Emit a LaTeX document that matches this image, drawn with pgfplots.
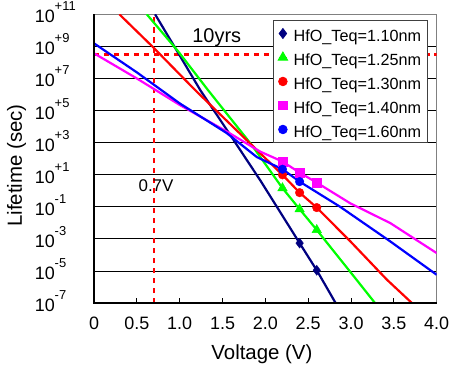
\documentclass[border=0pt]{standalone}
\usepackage{pgfplots}
\pgfplotsset{compat=1.18}
\usepackage{fontspec}
\setmainfont{Liberation Sans}
\definecolor{navyc}{RGB}{0,0,128}
\definecolor{greenc}{RGB}{0,255,0}
\definecolor{redc}{RGB}{255,0,0}
\definecolor{magc}{RGB}{255,0,255}
\definecolor{bluec}{RGB}{0,0,255}
\newcommand{\ep}[1]{10\raisebox{12bp}{\fontsize{13}{13}\selectfont #1}}
\pgfplotsset{mk/.style={only marks, legend image code/.code={\path (0bp,0bp) -- (8bp,0bp); \draw[##1] plot coordinates {(4bp,0bp)};}}}
\begin{document}
\begin{tikzpicture}
\begin{axis}[
  scale only axis, width=342.7bp, height=288.7bp,
  xmin=0, xmax=4, ymin=1e-7, ymax=1e11, ymode=log,
  xtick={0,0.5,1,1.5,2,2.5,3,3.5,4},
  xticklabels={0,0.5,1.0,1.5,2.0,2.5,3.0,3.5,4.0},
  ytick={1e-7,1e-5,1e-3,1e-1,1e1,1e3,1e5,1e7,1e9,1e11},
  yticklabels={\ep{-7},\ep{-5},\ep{-3},\ep{-1},\ep{+1},\ep{+3},\ep{+5},\ep{+7},\ep{+9},\ep{+11}},
  yminorticks=false,
  tick align=inside, xtick pos=left, ytick pos=left,
  major tick length=5bp,
  ytick style={draw=none},
  xtick style={black, line width=0.8bp},
  ymajorgrids, major grid style={black, line width=0.8bp},
  axis line style={draw=black!50, line width=1.5bp},
  tick label style={font=\fontsize{18}{20}\selectfont},
  xticklabel style={anchor=north, inner sep=0pt, yshift=-14bp},
  yticklabel style={anchor=base east, inner sep=0pt, text width=42bp, align=left, xshift=-17bp, yshift=-8.5bp},
  xlabel={Voltage (V)},
  ylabel={Lifetime (sec)},
  xlabel style={at={(axis description cs:0.49,-0.194)}, anchor=base, inner sep=0pt, font=\fontsize{20.5}{22}\selectfont},
  ylabel style={at={(axis description cs:-0.2256,0.476)}, anchor=center, inner sep=0pt, font=\fontsize{20.5}{22}\selectfont},
  legend style={at={(0.523,0.98)}, anchor=north west, draw=black!75, line width=0.8bp, fill=white,
     font=\fontsize{16.25}{16.25}\selectfont, inner xsep=4.5bp, inner ysep=3.25bp, row sep=4.5bp, column sep=4bp,
     nodes={inner sep=2bp, text height=15.5bp, text depth=0bp}},
  legend cell align=left,
]
% 10 years and 0.7 V guide lines
\addplot[redc, line width=2.8bp, dash pattern=on 5.5bp off 4.5bp, forget plot] coordinates {(0,3.15e8) (4,3.15e8)};
\addplot[redc, line width=2.8bp, dash pattern=on 5.5bp off 4.5bp, forget plot] coordinates {(0.7,1e-7) (0.7,1e11)};
% lifetime curves
\addplot[navyc, line width=2.2bp, mark=none, forget plot] coordinates {
 (0.713,1e11) (0.98,4.1e8) (1.24,1.9e6) (1.6,2.5e3) (1.94,4.5) (2.2,2.75e-2) (2.4,5.4e-4) (2.6,1.1e-5) (2.82,1e-7)};
\addplot[greenc, line width=2.2bp, mark=none, forget plot] coordinates {
 (0.616,1e11) (0.98,5.1e8) (1.33,1.9e6) (1.84,7.2e2) (2.2,1.45) (2.4,7.1e-2) (2.6,3.6e-3) (3.0,7.6e-6) (3.28,1e-7)};
\addplot[redc, line width=2.2bp, mark=none, forget plot] coordinates {
 (0.296,1e11) (0.68,1e9) (1.18,1.9e6) (1.7,3.8e3) (2.2,9.8) (2.4,0.76) (2.6,8.9e-2) (3.0,6.3e-4) (3.42,2.8e-6) (3.71,1e-7)};
\addplot[magc, line width=2.2bp, mark=none, forget plot] coordinates {
 (0,3.7e8) (0.5,1e7) (1.0,2.24e5) (1.55,4.9e3) (1.94,275) (2.2,66) (2.4,13.5) (2.6,3.2) (2.99,0.166) (3.46,9.5e-3) (4.0,1.29e-4)};
\addplot[bluec, line width=2.2bp, mark=none, forget plot] coordinates {
 (0,1.55e9) (0.5,2.4e7) (1.0,2.8e5) (1.55,3.9e3) (1.9,126) (2.2,21.9) (2.4,3.7) (2.87,0.102) (3.46,6.8e-4) (4.0,5.75e-6)};
% measured points
\addplot[mk, mark=diamond*, mark size=5bp, color=navyc] coordinates {(2.4,5.4e-4) (2.6,1.1e-5)};
\addlegendentry{HfO\_Teq=1.10nm}
\addplot[mk, mark=triangle*, mark size=5.5bp, color=greenc] coordinates {(2.2,1.45) (2.4,7.1e-2) (2.6,3.6e-3)};
\addlegendentry{HfO\_Teq=1.25nm}
\addplot[mk, mark=*, mark size=4.3bp, color=redc] coordinates {(2.2,9.8) (2.4,0.76) (2.6,8.9e-2)};
\addlegendentry{HfO\_Teq=1.30nm}
\addplot[mk, mark=square*, mark size=4.3bp, color=magc] coordinates {(2.2,66) (2.4,13.5) (2.6,3.2)};
\addlegendentry{HfO\_Teq=1.40nm}
\addplot[mk, mark=*, mark size=4.3bp, color=bluec] coordinates {(2.2,21.9) (2.4,3.7)};
\addlegendentry{HfO\_Teq=1.60nm}
\node[font=\fontsize{20}{22}\selectfont, inner sep=0pt] at (axis cs:1.433,3.5e9) {10yrs};
\node[font=\fontsize{17}{19}\selectfont, inner sep=0pt] at (axis cs:0.724,2.0) {0.7V};
\end{axis}
\draw[black, line width=1.5bp] (current axis.north west) -- (current axis.south west) -- (current axis.south east);
\pgfresetboundingbox
\path[use as bounding box] ([shift={(-94bp,-64bp)}]current axis.south west) rectangle ++(449bp,367bp);
\end{tikzpicture}
\end{document}
